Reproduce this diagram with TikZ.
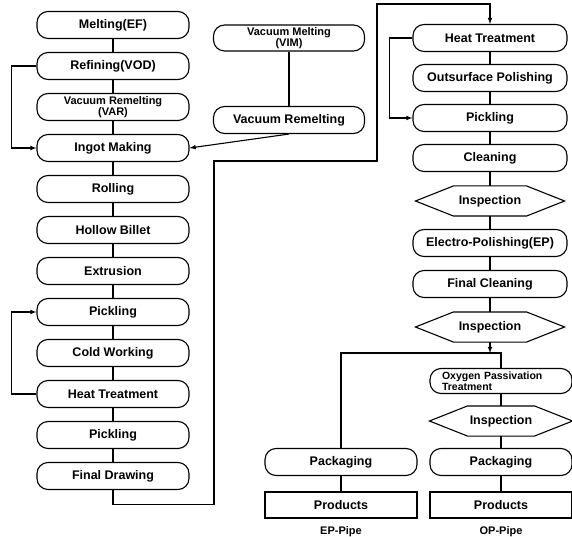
\documentclass[tikz,border=0pt]{standalone}
\usepackage{fontspec}
\setmainfont{Liberation Sans}

\tikzset{
  procbox/.style={draw, rounded corners=11pt, minimum width=152pt, minimum height=27pt,
    inner sep=2pt, font=\bfseries\fontsize{12.5}{13}\selectfont},
  twoline/.style={procbox, align=center, inner sep=1pt, font=\bfseries\fontsize{11}{10}\selectfont},
  inspect/.style={minimum width=148pt, minimum height=29pt, inner sep=1pt,
    font=\bfseries\fontsize{12.5}{13}\selectfont},
  prodbox/.style={draw, minimum width=152pt, minimum height=26pt, inner sep=2pt,
    font=\bfseries\fontsize{12.5}{13}\selectfont},
  pipelabel/.style={font=\bfseries\fontsize{11}{11}\selectfont}
}

\begin{document}
\begin{tikzpicture}[x=1pt, y=1pt, node distance=41pt, >=latex, line width=1.1pt]
    \useasboundingbox (0,0) rectangle (572,-537);

    % left column
    \node[procbox] (Melt) at (113,-25) {Melting(EF)};
    \node[procbox] (Refine) [below of=Melt] {Refining(VOD)};
    \node[twoline] (VAR) [below of=Refine] {Vacuum Remelting\\(VAR)};
    \node[procbox] (Ingot) [below of=VAR] {Ingot Making};
    \node[procbox] (Roll) [below of=Ingot] {Rolling};
    \node[procbox] (Billet) [below of=Roll] {Hollow Billet};
    \node[procbox] (Extr) [below of=Billet] {Extrusion};
    \node[procbox] (PickA) [below of=Extr] {Pickling};
    \node[procbox] (Cold) [below of=PickA] {Cold Working};
    \node[procbox] (HeatL) [below of=Cold] {Heat Treatment};
    \node[procbox] (PickB) [below of=HeatL] {Pickling};
    \node[procbox] (Final) [below of=PickB] {Final Drawing};

    % VIM branch
    \node[twoline, minimum width=151pt, minimum height=26pt] (VIM) at (289,-38) {Vacuum Melting\\(VIM)};
    \node[procbox, minimum width=151pt] (VRem) [node distance=82pt, below of=VIM] {Vacuum Remelting};

    % right column
    \node[procbox, minimum width=154pt] (HeatR) at (490,-38) {Heat Treatment};
    \node[procbox, minimum width=154pt] (Outsurf) [node distance=40pt, below of=HeatR] {Outsurface Polishing};
    \node[procbox, minimum width=154pt] (PickR) [node distance=40pt, below of=Outsurf] {Pickling};
    \node[procbox, minimum width=154pt] (Clean) [node distance=40pt, below of=PickR] {Cleaning};
    \node[inspect] (InspA) [node distance=43pt, below of=Clean] {Inspection};
    \node[procbox, minimum width=154pt] (EP) [node distance=42pt, below of=InspA] {Electro-Polishing(EP)};
    \node[procbox, minimum width=154pt] (FClean) [below of=EP] {Final Cleaning};
    \node[inspect] (InspB) [node distance=43pt, below of=FClean] {Inspection};

    % EP pipe
    \coordinate (Split) at (490,-353);
    \node[procbox] (PackL) at (341,-462) {Packaging};
    \node[prodbox] (ProdL) [node distance=43pt, below of=PackL] {Products};
    \node[pipelabel] (EPPipe) [node distance=27pt, below of=ProdL] {EP-Pipe};

    % OP pipe
    \node[twoline, minimum width=142pt, minimum height=25pt, text width=118pt, align=left,
        font=\bfseries\fontsize{10.5}{10.5}\selectfont]
        (Oxy) at (501,-381) {Oxygen Passivation\\Treatment};
    \node[inspect, minimum width=142pt] (InspC) [node distance=40pt, below of=Oxy] {Inspection};
    \node[procbox, minimum width=142pt] (PackR) [below of=InspC] {Packaging};
    \node[prodbox, minimum width=142pt] (ProdR) [node distance=43pt, below of=PackR] {Products};
    \node[pipelabel] (OPPipe) [node distance=27pt, below of=ProdR] {OP-Pipe};

    % inspection outlines
    \foreach \n in {InspA, InspB, InspC}
        \draw (\n.west) -- ([xshift=38pt]\n.north west) -- ([xshift=-38pt]\n.north east)
            -- (\n.east) -- ([xshift=-38pt]\n.south east) -- ([xshift=38pt]\n.south west) -- cycle;

    \foreach \a/\b in {Melt/Refine, Refine/VAR, VAR/Ingot, Ingot/Roll, Roll/Billet,
        Billet/Extr, Extr/PickA, PickA/Cold, Cold/HeatL, HeatL/PickB, PickB/Final,
        VIM/VRem, HeatR/Outsurf, Outsurf/PickR, PickR/Clean, Clean/InspA, InspA/EP,
        EP/FClean, FClean/InspB, PackL/ProdL, Oxy/InspC, InspC/PackR, PackR/ProdR}
        \draw (\a) -- (\b);

    \draw[->] (Refine.west) -- ++(-25,0) |- (Ingot.west);
    \draw[->] (HeatL.west) -- ++(-25,0) |- (PickA.west);
    \draw[->] (VRem.south) -- (Ingot.east);
    \draw[->] (Final.south) -- ++(0,-14) -| (214,-161) -| (377,-4) -| (HeatR.north);
    \draw[->] (HeatR.west) -- ++(-23,0) |- (PickR.west);
    \draw[->] (InspB.south) -- (Split);
    \draw (PackL.north) |- (Split) -| (Oxy.north);
\end{tikzpicture}
\end{document}
